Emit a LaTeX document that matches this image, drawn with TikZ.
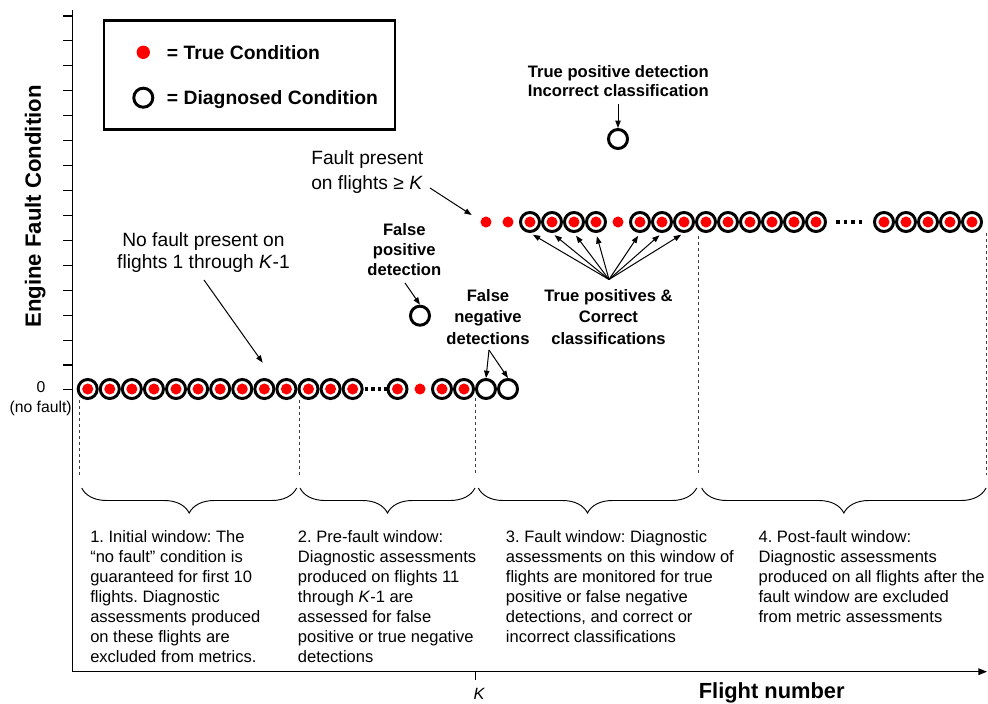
\documentclass[tikz,border=0pt]{standalone}
\usepackage{fontspec}
\setmainfont{Liberation Sans}
\usetikzlibrary{arrows.meta,decorations.pathreplacing}
\frenchspacing
\begin{document}
\begin{tikzpicture}[x=0.75pt,y=-0.75pt,
  diag/.style={circle,draw=black,line width=2.2pt,inner sep=0pt,minimum size=14.3pt},
  tdot/.style={circle,fill=red,inner sep=0pt,minimum size=8.3pt},
  ldot/.style={circle,fill=red,inner sep=0pt,minimum size=10pt},
  lbl/.style={font=\fontsize{14.4}{16.7}\selectfont,align=center,inner sep=0pt},
  blbl/.style={font=\fontsize{12.45}{15}\selectfont\bfseries,align=center,inner sep=0pt},
  wintext/.style={font=\fontsize{12.4}{15}\selectfont,align=left,inner sep=0pt,anchor=north west},
  arr/.style={-{Triangle[length=5.5pt,width=4pt]},line width=0.75pt},
  guide/.style={dash pattern=on 2.25pt off 2.25pt,line width=0.75pt,black!75},
  brc/.style={decorate,decoration={brace,mirror,amplitude=18.75pt},line width=0.7pt},
  sq/.style={fill=black}
  ]
\useasboundingbox (0,0) rectangle (988,703);

% axes
\coordinate (yaxtop) at (72.7,10);
\coordinate (origin) at (72.7,671.7);
\coordinate (xend) at (987,671.7);
\draw[line width=1pt] (yaxtop) -- (origin);
\draw[line width=1pt,-{Triangle[length=6.5pt,width=5pt]}] (origin) -- (xend);
\foreach \k in {0,...,15} {
  \draw[line width=0.8pt] (63,{16+24.93*\k}) -- (72.7,{16+24.93*\k});
}
\draw[line width=0.8pt] (475.7,671.7) -- (475.7,680);
\node[font=\fontsize{12.2}{14}\selectfont\itshape,anchor=base] (klbl) at (479,699) {K};
\node[font=\fontsize{16.4}{19}\selectfont\bfseries,anchor=base] (xlbl) at (771.7,698.8) {Flight number};
\node[font=\fontsize{16.6}{19}\selectfont\bfseries,anchor=base,rotate=90] (ylbl) at (40.9,206.5) {Engine Fault Condition};
\node[font=\fontsize{11.8}{14}\selectfont,anchor=base] (zero) at (41,392.7) {0};
\node[font=\fontsize{11.8}{14}\selectfont,anchor=base] (nofaultlbl) at (40.7,412.5) {(no fault)};

% legend
\draw[line width=2.2pt] (104,20.7) rectangle (395,129.3);
\node[ldot] (legdot) at (143.3,52.3) {};
\node[diag] (legcirc) at (143.3,97.7) {};
\node[font=\fontsize{14.5}{17}\selectfont\bfseries,anchor=base west,inner sep=0pt] (legt1) at (166.7,59.2) {= True Condition};
\node[font=\fontsize{14.5}{17}\selectfont\bfseries,anchor=base west,inner sep=0pt] (legt2) at (166.7,104.6) {= Diagnosed Condition};

% bottom row
\foreach \i in {0,...,12} {
  \node[tdot] (bt\i) at ({87.7+22.08*\i},389) {};
  \node[diag] (bc\i) at ({87.7+22.08*\i},389) {};
}
\foreach \x in {366.5,373,379.5,386} {\fill[sq] (\x-1.6,387.4) rectangle (\x+1.6,390.6);}
\node[tdot] (bt13) at (397.5,389) {};
\node[diag] (bc13) at (397.5,389) {};
\node[tdot] (bt14) at (420,389) {};
\node[tdot] (bt15) at (442,389) {};
\node[diag] (bc15) at (442,389) {};
\node[tdot] (bt16) at (464,389) {};
\node[diag] (bc16) at (464,389) {};
\node[diag] (e1) at (486,389) {};
\node[diag] (e2) at (508,389) {};

% top row
\node[tdot] (tt1) at (486,222) {};
\node[tdot] (tt2) at (508,222) {};
\foreach \x [count=\n] in {530,552,574,596} {
  \node[tdot] (tt\n) at (\x,222) {};
  \node[diag] (tc\n) at (\x,222) {};
}
\node[tdot] (tt5) at (618,222) {};
\foreach \x [count=\n from 6] in {640,662,684,706,728,750,772,794,816} {
  \node[tdot] (tt\n) at (\x,222) {};
  \node[diag] (tc\n) at (\x,222) {};
}
\foreach \x in {838,845.5,853,860.5} {\fill[sq] (\x-1.6,220.4) rectangle (\x+1.6,223.6);}
\foreach \x [count=\n from 15] in {884,906,928,950,972} {
  \node[tdot] (tt\n) at (\x,222) {};
  \node[diag] (tc\n) at (\x,222) {};
}

% isolated diagnosed circles
\node[diag] (ic) at (618,139) {};
\node[diag] (fpc) at (420,315.7) {};

% annotations
\node[blbl,anchor=north,font=\fontsize{12.45}{14.5}\selectfont\bfseries] (tpic) at (618.3,64.8) {True positive detection\\Incorrect classification};
\coordinate (tpica) at (618,104);
\draw[arr] (tpica) -- (ic.north);

\node[lbl,anchor=north west,align=left,font=\fontsize{14.4}{18.3}\selectfont] (fpres) at (311,150.5) {Fault present\\on flights ≥ \textit{K}};
\coordinate (fpa) at (430,188);
\coordinate (fpb) at (471.7,215);
\draw[arr] (fpa) -- (fpb);

\node[lbl,anchor=north] (nofault) at (203.5,232.5) {No fault present on\\flights 1 through \textit{K}-1};
\coordinate (nfa) at (204,280);
\coordinate (nfb) at (262.7,362.7);
\draw[arr] (nfa) -- (nfb);

\node[blbl,anchor=north] (fplbl) at (404.3,223.4) {False\\positive\\detection};
\coordinate (fpsrc) at (405,283);
\draw[arr] (fpsrc) -- (fpc.north);

\node[blbl,anchor=north,font=\fontsize{12.45}{16.1}\selectfont\bfseries] (fnlbl) at (488,289) {False\\negative\\detections};
\coordinate (fnsrc) at (489,350);
\draw[arr] (fnsrc) -- (e1.north);
\draw[arr] (fnsrc) -- (e2.north);

\node[blbl,anchor=north,font=\fontsize{12.45}{16.1}\selectfont\bfseries] (tplbl) at (608.5,289) {True positives \&\\Correct\\classifications};
\coordinate (tpsrc) at (609,279.5);
\foreach \n in {1,2,3,4,6,7,8} {
  \draw[arr,shorten >=2.5pt] (tpsrc) -- (tc\n.south);
}

% window guides
\draw[guide] (79.3,400) -- (79.3,475);
\draw[guide] (299,400) -- (299,475);
\draw[guide] (475.7,398) -- (475.7,475);
\draw[guide] (698,236) -- (698,475);
\draw[guide] (986.7,233) -- (986.7,475);

% braces
\draw[brc] (81.7,488) -- (296.7,488);
\draw[brc] (300,488) -- (475,488);
\draw[brc] (478.3,488) -- (696.7,488);
\draw[brc] (701.7,488) -- (986,488);

% window texts
\node[wintext] (w1) at (90,530.5) {1. Initial window: The\\“no fault” condition is\\guaranteed for first 10\\flights. Diagnostic\\assessments produced\\on these flights are\\excluded from metrics.};
\node[wintext] (w2) at (297.7,530.5) {2. Pre-fault window:\\Diagnostic assessments\\produced on flights 11\\through \textit{K}-1 are\\assessed for false\\positive or true negative\\detections};
\node[wintext] (w3) at (505.7,530.5) {3. Fault window: Diagnostic\\assessments on this window of\\flights are monitored for true\\positive or false negative\\detections, and correct or\\incorrect classifications};
\node[wintext] (w4) at (758.3,530.5) {4. Post-fault window:\\Diagnostic assessments\\produced on all flights after the\\fault window are excluded\\from metric assessments};
\end{tikzpicture}
\end{document}
